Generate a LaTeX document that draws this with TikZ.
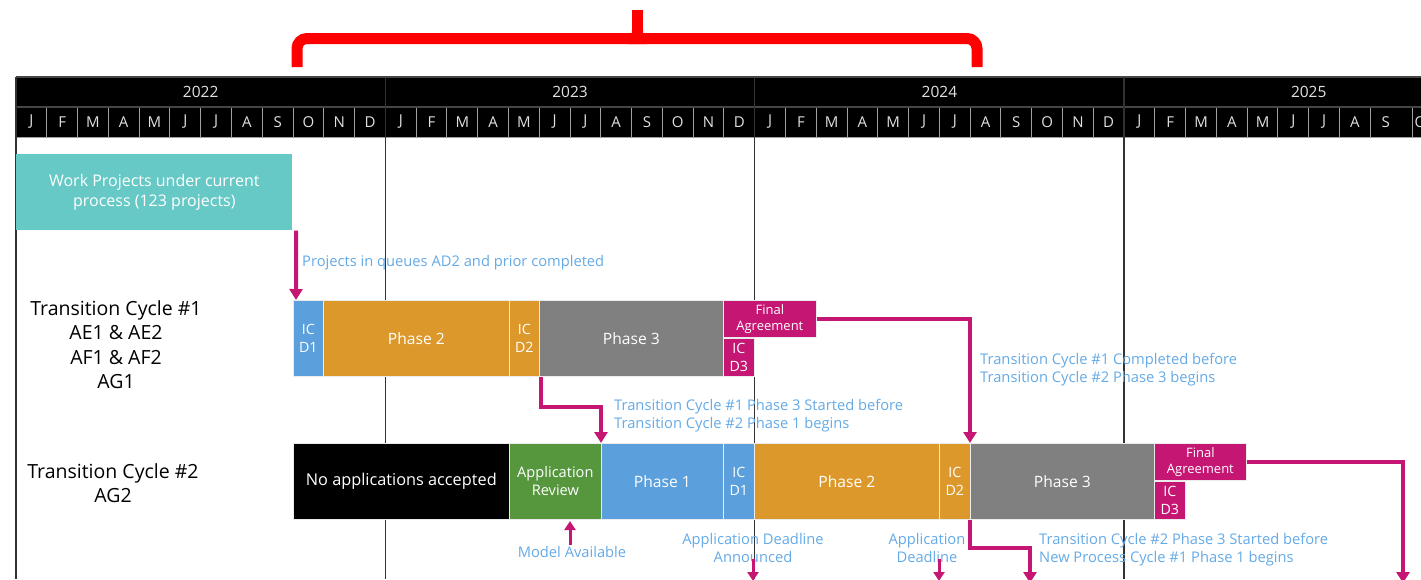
\documentclass[tikz,border=0pt]{standalone}
\usepackage{fontspec}
\setmainfont{Open Sans}
\usetikzlibrary{arrows.meta,calc}
\definecolor{cblue}{RGB}{91,160,220}
\definecolor{corange}{RGB}{221,152,44}
\definecolor{cgray}{RGB}{128,128,128}
\definecolor{cmag}{RGB}{196,22,114}
\definecolor{cgreen}{RGB}{86,150,60}
\definecolor{cteal}{RGB}{102,201,198}
\definecolor{ctext}{RGB}{100,170,230}
\definecolor{hdrtext}{RGB}{225,225,225}
\definecolor{hdrline}{RGB}{70,70,70}
\definecolor{mline}{RGB}{160,160,160}
\definecolor{vline}{RGB}{50,50,50}
\begin{document}
\begin{tikzpicture}[x=1pt,y=-1pt,
  seg/.style={draw=white!92!black, line width=0.7pt, inner sep=0pt, anchor=north west, text=white, align=center, font=\fontsize{15.6}{18}\selectfont},
  small/.style={font=\fontsize{14.2}{17.5}\selectfont},
  arr/.style={draw=cmag, line width=4pt, -{Triangle[width=13pt,length=11pt]}},
  sarr/.style={draw=cmag, line width=3pt, -{Triangle[width=11pt,length=9pt]}},
  note/.style={text=ctext, align=left, inner sep=0pt, font=\fontsize{14.7}{18}\selectfont},
  lbl/.style={align=center, inner sep=0pt, font=\fontsize{19.5}{24.5}\selectfont},
  yr/.style={text=hdrtext, inner sep=0pt, font=\fontsize{15.5}{18}\selectfont},
  mo/.style={text=hdrtext, inner sep=0pt, font=\fontsize{15}{18}\selectfont}]
\useasboundingbox (0,0) rectangle (1421,579);
\clip (0,0) rectangle (1421,579);
% red bracket
\draw[red, line width=11pt, rounded corners=10pt] (297,67) -- (297,38.5) -- (977,38.5) -- (977,67);
\fill[red] (628,44) .. controls (633,40) and (632,30) .. (632,10) -- (643,10) .. controls (643,30) and (642,40) .. (647,44) -- cycle;
% header
\fill[black] (16,77) rectangle (1430,137);
\foreach \m [count=\i from 0] in {J,F,M,A,M,J,J,A,S,O,N,D,J,F,M,A,M,J,J,A,S,O,N,D,J,F,M,A,M,J,J,A,S,O,N,D,J,F,M,A,M,J,J,A,S}{
  \pgfmathsetmacro{\xl}{16+\i*30.78}
  \pgfmathsetmacro{\xc}{16+(\i+0.5)*30.78}
  \draw[mline, line width=1pt] (\xl,107) -- (\xl,137);
  \node[mo] (m\i) at (\xc,122) {\m};
}
\draw[mline, line width=1pt] (1412.3,107) -- (1412.3,137);
\node[mo, anchor=west, inner sep=0pt] (mlast) at (1414.5,122) {O};
\draw[hdrline, line width=1.2pt] (16,77) -- (1430,77);
\draw[hdrline, line width=1.2pt] (16,107) -- (1430,107);
\draw[mline, line width=1pt] (16,137) -- (1430,137);
\foreach \y [count=\j from 0] in {2022,2023,2024,2025}{
  \pgfmathsetmacro{\xc}{16+(\j+0.5)*369.35}
  \node[yr] (y\y) at (\xc,92) {\y};
}
% vertical lines
\draw[vline, line width=1.3pt] (16,77) -- (16,579);
\foreach \k in {1,2,3}{
  \pgfmathsetmacro{\xl}{16+\k*369.35}
  \draw[vline, line width=1.3pt] (\xl,77) -- (\xl,579);
}
% current process box
\node[seg, fill=cteal, minimum width=276pt, minimum height=76pt, draw=none, font=\fontsize{16}{20}\selectfont] (wp) at (16,154) {Work Projects under current\\process (123 projects)};
% row labels
\node[lbl] (tc1) at (116,344.5) {Transition Cycle \#1\\AE1 \& AE2\\AF1 \& AF2\\AG1};
\node[lbl] (tc2) at (113,483) {Transition Cycle \#2\\AG2};
% row 1
\node[seg, small, fill=cblue, minimum width=30pt, minimum height=76pt] (icda) at (293,300) {IC\\D1};
\node[seg, fill=corange, minimum width=186pt, minimum height=76pt] (p2a) at (323,300) {Phase 2};
\node[seg, small, fill=corange, minimum width=30pt, minimum height=76pt] (icdb) at (509,300) {IC\\D2};
\node[seg, fill=cgray, minimum width=184pt, minimum height=76pt] (p3a) at (539,300) {Phase 3};
\node[seg, fill=cmag, minimum width=93pt, minimum height=37pt, font=\fontsize{13}{16}\selectfont] (fa1) at (723,300) {Final\\Agreement};
\node[seg, small, fill=cmag, minimum width=31pt, minimum height=38pt] (icdc) at (723,338) {IC\\D3};
% row 2
\node[seg, fill=black, minimum width=216pt, minimum height=76pt, font=\fontsize{16.3}{19}\selectfont] (noa) at (293,443) {No applications accepted};
\node[seg, small, fill=cgreen, minimum width=92pt, minimum height=76pt, font=\fontsize{14.6}{18}\selectfont] (ar) at (509,443) {Application\\Review};
\node[seg, fill=cblue, minimum width=122pt, minimum height=76pt] (p1b) at (601,443) {Phase 1};
\node[seg, small, fill=cblue, minimum width=31pt, minimum height=76pt] (icdd) at (723,443) {IC\\D1};
\node[seg, fill=corange, minimum width=185pt, minimum height=76pt] (p2b) at (754,443) {Phase 2};
\node[seg, small, fill=corange, minimum width=31pt, minimum height=76pt] (icde) at (939,443) {IC\\D2};
\node[seg, fill=cgray, minimum width=184pt, minimum height=76pt] (p3b) at (970,443) {Phase 3};
\node[seg, fill=cmag, minimum width=92pt, minimum height=37pt, font=\fontsize{13}{16}\selectfont] (fa2) at (1154,443) {Final\\Agreement};
\node[seg, small, fill=cmag, minimum width=31pt, minimum height=38pt] (icdf) at (1154,481) {IC\\D3};
% notes
\node[note, anchor=west] (q1) at (302,262.5) {Projects in queues AD2 and prior completed};
\node[note, anchor=west] (n1) at (614,416) {Transition Cycle \#1 Phase 3 Started before\\Transition Cycle \#2 Phase 1 begins};
\node[note, anchor=west] (n2) at (980,369.5) {Transition Cycle \#1 Completed before\\Transition Cycle \#2 Phase 3 begins};
\node[note, anchor=west] (n3) at (1039,550) {Transition Cycle \#2 Phase 3 Started before\\New Process Cycle \#1 Phase 1 begins};
\node[note] (ma) at (572,552) {Model Available};
\node[note, align=center] (adl) at (753,548) {Application Deadline\\Announced};
\node[note, align=center] (ad) at (927,548) {Application\\Deadline};
% end coordinates
\coordinate (e1) at (753,581);
\coordinate (e2) at (939,581);
\coordinate (e3) at (1030,583);
\coordinate (e4) at (1403,583);
\coordinate (mtip) at (570,521);
% connectors
\draw[arr] ([xshift=3.5pt]wp.south east) -- ([xshift=3pt]icda.north west);
\draw[arr] ([xshift=1.5pt]p3a.south west) -- ++(0,30) -| ([xshift=0pt]p1b.north west);
\draw[arr] (fa1.east) -| (p3b.north west);
\draw[arr] ([xshift=0pt]p3b.south west) -- ++(0,28) -| (e3);
\draw[arr] (fa2.east) -| (e4);
\draw[sarr] ([yshift=1pt]ma.north -| mtip) -- (mtip);
\draw[sarr] ([yshift=4pt]adl.south -| e1) -- (e1);
\draw[sarr] ([yshift=4pt]ad.south -| e2) -- (e2);
\end{tikzpicture}
\end{document}
